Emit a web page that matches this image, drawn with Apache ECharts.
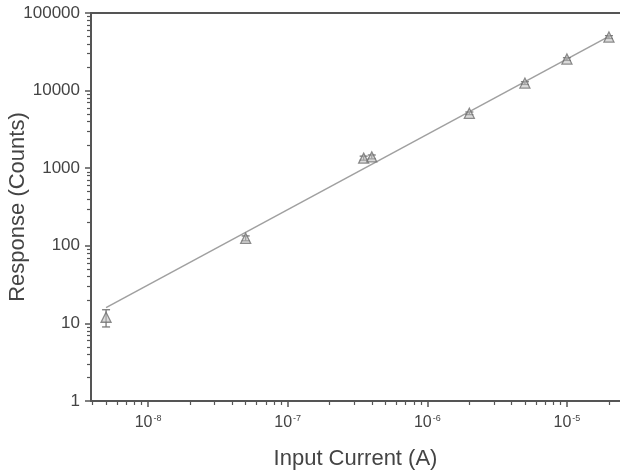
<!DOCTYPE html>
<html>
<head>
<meta charset="utf-8">
<script src="https://cdn.jsdelivr.net/npm/echarts@6/dist/echarts.min.js"></script>
<style>
  html, body { margin: 0; padding: 0; background: #fff; }
  #chart { width: 620px; height: 474px; }
</style>
</head>
<body>
<div id="chart"></div>
<script>
// Measured detector response versus input current
const currents = [5e-9, 5e-8, 3.5e-7, 4e-7, 2e-6, 5e-6, 1e-5, 2e-5];
const counts   = [12, 125, 1350, 1400, 5100, 12500, 25500, 49000];
const errLow   = [9, 116, 1270, 1320, 4900, 12000, 24500, 47000];
const errHigh  = [15, 134, 1430, 1480, 5300, 13000, 26500, 51000];

// Power-law fit drawn across the measured range
const fitCurrents = [5e-9, 2e-5];
const fitCounts   = [16, 50000];

// Axis decades and their minor subdivisions
const xDecades = [1e-8, 1e-7, 1e-6, 1e-5];
const yDecades = [1, 10, 100, 1000, 10000, 100000];
const minorSteps = [2, 3, 4, 5, 6, 7, 8, 9];

const xMin = 3.9e-9, xMax = 2.4e-5;
const yMin = 1, yMax = 100000;

function minorValues(decades, lo, hi) {
  const out = [];
  const all = [decades[0] / 10].concat(decades);
  all.forEach(d => minorSteps.forEach(m => {
    const v = d * m;
    if (v > lo && v < hi) out.push(v);
  }));
  return out;
}
const xMinor = minorValues(xDecades, xMin, xMax);
const yMinor = minorValues(yDecades, yMin, yMax);

const axisColor = '#555';
const textColor = '#444';
const fontFamily = '"Liberation Sans", Arial, Helvetica, sans-serif';

const chart = echarts.init(document.getElementById('chart'), null, { renderer: 'canvas' });

chart.setOption({
  backgroundColor: '#fff',
  animation: false,
  grid: { left: 91, right: 0, top: 13, bottom: 73, outerBoundsMode: 'none', containLabel: false },
  xAxis: [
    {
      type: 'log', min: xMin, max: xMax, position: 'bottom',
      name: 'Input Current (A)', nameLocation: 'middle', nameGap: 47,
      nameTextStyle: { fontSize: 22, color: textColor, fontFamily: fontFamily, verticalAlign: 'top' },
      axisLine: { show: true, lineStyle: { color: axisColor, width: 2 } },
      axisTick: { show: true, customValues: xDecades, length: 6, inside: false, lineStyle: { color: axisColor, width: 1.5 } },
      axisLabel: {
        customValues: xDecades, margin: 13, color: textColor,
        formatter: v => '{b|10}{s|' + Math.round(Math.log10(v)) + '}',
        rich: {
          b: { fontSize: 16, color: textColor, fontFamily: fontFamily },
          s: { fontSize: 9, color: textColor, fontFamily: fontFamily, padding: [0, 0, 9, 1] }
        }
      },
      splitLine: { show: false }
    },
    {
      type: 'log', min: xMin, max: xMax, position: 'bottom',
      axisLine: { show: false },
      axisTick: { show: true, customValues: xMinor, length: 4, lineStyle: { color: axisColor, width: 1.2 } },
      axisLabel: { show: false },
      splitLine: { show: false }
    },
    {
      type: 'log', min: xMin, max: xMax, position: 'top',
      axisLine: { show: true, lineStyle: { color: axisColor, width: 2 } },
      axisTick: { show: false }, axisLabel: { show: false }, splitLine: { show: false }
    }
  ],
  yAxis: [
    {
      type: 'log', min: yMin, max: yMax, position: 'left',
      name: 'Response (Counts)', nameLocation: 'middle', nameGap: 62, nameMoveOverlap: false,
      nameTextStyle: { fontSize: 22, color: textColor, fontFamily: fontFamily },
      axisLine: { show: true, lineStyle: { color: axisColor, width: 2 } },
      axisTick: { show: true, customValues: yDecades, length: 6, lineStyle: { color: axisColor, width: 1.5 } },
      axisLabel: {
        customValues: yDecades, margin: 11, color: textColor,
        fontSize: 17, fontFamily: fontFamily,
        formatter: v => String(Math.round(v))
      },
      splitLine: { show: false }
    },
    {
      type: 'log', min: yMin, max: yMax, position: 'left',
      axisLine: { show: false },
      axisTick: { show: true, customValues: yMinor, length: 4, lineStyle: { color: axisColor, width: 1.2 } },
      axisLabel: { show: false },
      splitLine: { show: false }
    }
  ],
  series: [
    {
      name: 'fit', type: 'line', xAxisIndex: 0, yAxisIndex: 0,
      data: fitCurrents.map((x, i) => [x, fitCounts[i]]),
      showSymbol: false, symbol: 'none',
      lineStyle: { color: '#a0a0a0', width: 1.5 },
      z: 2
    },
    {
      name: 'error', type: 'custom', xAxisIndex: 0, yAxisIndex: 0,
      data: currents.map((x, i) => [x, errLow[i], errHigh[i]]),
      renderItem: (params, api) => {
        const lo = api.coord([api.value(0), api.value(1)]);
        const hi = api.coord([api.value(0), api.value(2)]);
        const cap = 4;
        const style = { stroke: '#7a7a7a', lineWidth: 1.3 };
        return {
          type: 'group',
          children: [
            { type: 'line', shape: { x1: lo[0], y1: lo[1], x2: hi[0], y2: hi[1] }, style: style },
            { type: 'line', shape: { x1: lo[0] - cap, y1: lo[1], x2: lo[0] + cap, y2: lo[1] }, style: style },
            { type: 'line', shape: { x1: hi[0] - cap, y1: hi[1], x2: hi[0] + cap, y2: hi[1] }, style: style }
          ]
        };
      },
      z: 3
    },
    {
      name: 'measured', type: 'scatter', xAxisIndex: 0, yAxisIndex: 0,
      data: currents.map((x, i) => [x, counts[i]]),
      symbol: 'triangle', symbolSize: 10,
      itemStyle: { color: 'rgba(190,190,190,0.7)', borderColor: '#707070', borderWidth: 1.3 },
      z: 4
    }
  ]
});
</script>
</body>
</html>
